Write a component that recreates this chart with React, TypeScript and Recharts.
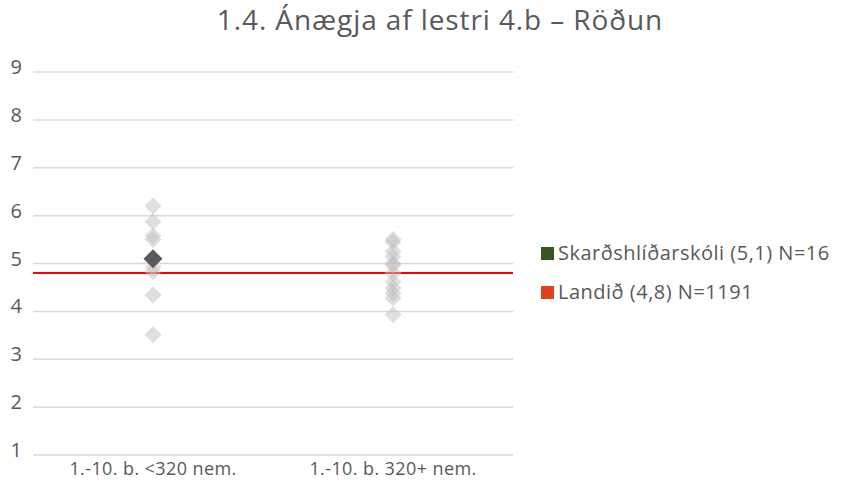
import React from "react";
import { ScatterChart, Scatter, XAxis, YAxis, CartesianGrid, ReferenceLine } from "recharts";

const categories = ["1.-10. b. <320 nem.", "1.-10. b. 320+ nem."];
const group1Values = [6.2, 5.87, 5.58, 5.5, 4.92, 4.83, 4.34, 3.51];
const group2Values = [5.5, 5.45, 5.25, 5.14, 5.0, 4.97, 4.8, 4.62, 4.49, 4.38, 4.28, 3.93];
const schoolValue = 5.1;
const nationalValue = 4.8;
const yTicks = [1, 2, 3, 4, 5, 6, 7, 8, 9];
const legendItems = [
  { label: "Skarðshlíðarskóli (5,1) N=16", color: "#375623" },
  { label: "Landið (4,8) N=1191", color: "#e0401c" },
];
const title = "1.4. Ánægja af lestri 4.b – Röðun";

const otherSchools = [
  ...group1Values.map((v) => ({ x: 0.5, y: v })),
  ...group2Values.map((v) => ({ x: 1.5, y: v })),
];
const thisSchool = [{ x: 0.5, y: schoolValue }];

const FONT = "'Open Sans', sans-serif";
const TXT = "#595959";

const Diamond = (r: number, fill: string, opacity: number) => (props: any) => {
  const { cx, cy } = props;
  if (cx == null || cy == null) return null;
  return (
    <polygon
      points={`${cx},${cy - r} ${cx + r},${cy} ${cx},${cy + r} ${cx - r},${cy}`}
      fill={fill}
      fillOpacity={opacity}
    />
  );
};

export default function App() {
  return (
    <div style={{ position: "absolute", left: 0, top: 0, width: 847, height: 482, background: "#fff", fontFamily: FONT }}>
      <div
        style={{
          position: "absolute",
          left: 0,
          width: 880,
          top: 3,
          textAlign: "center",
          fontSize: 28,
          lineHeight: "32px",
          letterSpacing: 0.9,
          color: TXT,
        }}
      >
        {title}
      </div>
      <ScatterChart width={847} height={482} margin={{ top: 72, right: 334, bottom: 0, left: 0 }}>
        <CartesianGrid vertical={false} stroke="#d9d9d9" strokeWidth={1.5} />
        <XAxis
          type="number"
          dataKey="x"
          domain={[0, 2]}
          ticks={[0.5, 1.5]}
          tickFormatter={(v: number) => categories[Math.floor(v)]}
          axisLine={false}
          tickLine={false}
          height={27}
          tick={{ fill: TXT, fontSize: 18, fontFamily: FONT, letterSpacing: 0.4 }}
          tickMargin={1}
        />
        <YAxis
          type="number"
          dataKey="y"
          domain={[1, 9]}
          ticks={yTicks}
          axisLine={false}
          tickLine={false}
          width={33}
          tick={{ fill: TXT, fontSize: 20, fontFamily: FONT, dy: -5 }}
          tickMargin={5}
        />
        <ReferenceLine y={nationalValue} stroke="#ff0000" strokeWidth={2} ifOverflow="extendDomain" />
        <Scatter data={otherSchools} isAnimationActive={false} shape={Diamond(8.5, "#bfbfbf", 0.5)} />
        <Scatter data={thisSchool} isAnimationActive={false} shape={Diamond(9.5, "#595959", 1)} />
      </ScatterChart>
      {legendItems.map((it, i) => (
        <div
          key={it.label}
          style={{
            position: "absolute",
            left: 541,
            top: 240 + i * 39,
            display: "flex",
            alignItems: "center",
            fontSize: 20,
            lineHeight: "26px",
            letterSpacing: 0.5,
            color: TXT,
            whiteSpace: "nowrap",
          }}
        >
          <div style={{ width: 13, height: 13, background: it.color, marginRight: 4 }} />
          <span>{it.label}</span>
        </div>
      ))}
    </div>
  );
}
